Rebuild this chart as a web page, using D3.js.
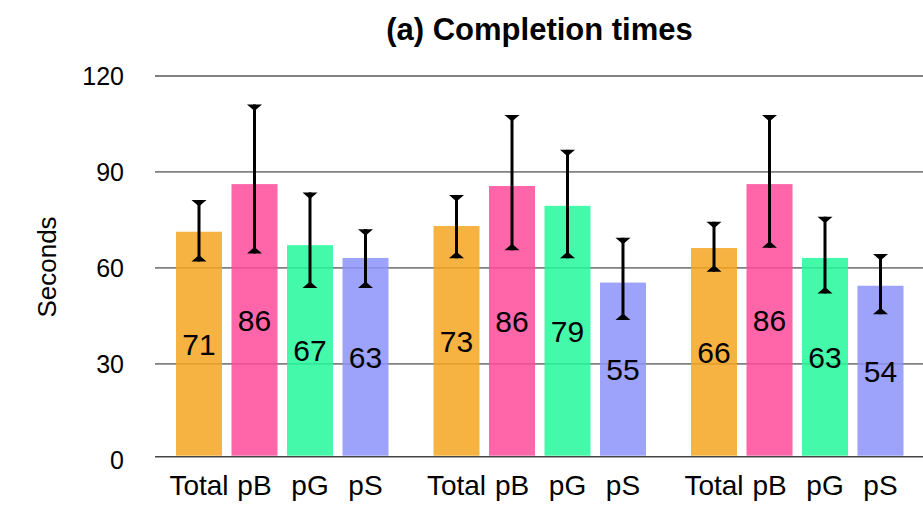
<!DOCTYPE html>
<html>
<head>
<meta charset="utf-8">
<script src="https://cdn.jsdelivr.net/npm/d3@7"></script>
<style>
  html, body { margin: 0; padding: 0; background: #fff; }
  svg { display: block; font-family: "Liberation Sans", Arial, Helvetica, sans-serif; }
</style>
</head>
<body>
<svg id="chart" width="923" height="507"></svg>
<script>
// ---- data ----
const groups = ["Group 1", "Group 2", "Group 3"];
const series = ["Total", "pB", "pG", "pS"];
const meanValues = [
  [71.3, 86.2, 67.1, 63.1],
  [73.1, 85.6, 79.4, 55.4],
  [66.2, 86.2, 63.1, 54.4]
];
const errLow = [
  [62.0, 64.5, 53.7, 53.7],
  [63.0, 65.5, 63.0, 43.7],
  [58.8, 66.3, 52.0, 45.5]
];
const errHigh = [
  [81.2, 111.1, 83.6, 72.1],
  [82.8, 107.8, 96.9, 69.4],
  [74.4, 107.8, 76.0, 64.3]
];
const yTicks = [0, 30, 60, 90, 120];
const seriesColors = ["#F4A621", "#FF4B9B", "#23F99B", "#8C92F9"];
const titleText = "(a) Completion times";
const yTitle = "Seconds";

// ---- layout ----
const svg = d3.select("#chart");
const gridLeft = 155, gridRight = 923;
const y = d3.scaleLinear().domain([0, 120]).range([459.7, 76]);

const x0 = d3.scaleBand().domain(groups).range([176, 903.5]).paddingInner(0.1748).paddingOuter(0);
const x1 = d3.scaleBand().domain(series).range([0, x0.bandwidth()]).paddingInner(0.171).paddingOuter(0);
const color = d3.scaleOrdinal().domain(series).range(seriesColors);

const rows = [];
groups.forEach((g, gi) => series.forEach((s, si) => {
  rows.push({ g, s, v: meanValues[gi][si], lo: errLow[gi][si], hi: errHigh[gi][si] });
}));

// gridlines (under bars)
svg.append("g").selectAll("line").data(yTicks.filter(d => d > 0)).join("line")
  .attr("x1", gridLeft).attr("x2", gridRight)
  .attr("y1", d => y(d)).attr("y2", d => y(d))
  .attr("stroke", "#808080").attr("stroke-width", 1.8);

// bars
const barBottom = y(0) - 4;
svg.append("g").selectAll("rect").data(rows).join("rect")
  .attr("x", d => x0(d.g) + x1(d.s))
  .attr("width", x1.bandwidth())
  .attr("y", d => y(d.v))
  .attr("height", d => barBottom - y(d.v))
  .attr("fill", d => color(d.s))
  .attr("fill-opacity", 0.85);

// baseline axis
svg.append("line")
  .attr("x1", gridLeft).attr("x2", gridRight)
  .attr("y1", y(0) - 3).attr("y2", y(0) - 3)
  .attr("stroke", "#444").attr("stroke-width", 1.5);

// y tick labels
svg.append("g").selectAll("text").data(yTicks).join("text")
  .attr("x", 124).attr("y", d => y(d))
  .attr("dy", "0.36em")
  .attr("text-anchor", "end")
  .attr("font-size", 25)
  .attr("fill", "#000")
  .text(d => d);

// value labels (middle of bar)
svg.append("g").selectAll("text").data(rows).join("text")
  .attr("x", d => x0(d.g) + x1(d.s) + x1.bandwidth() / 2)
  .attr("y", d => (y(d.v) + barBottom) / 2)
  .attr("dy", "0.36em")
  .attr("text-anchor", "middle")
  .attr("font-size", 30)
  .attr("fill", "#000")
  .text(d => d3.format(".0f")(d.v));

// error bars
const eb = svg.append("g").selectAll("g").data(rows).join("g")
  .attr("transform", d => `translate(${x0(d.g) + x1(d.s) + x1.bandwidth() / 2},0)`);
eb.append("line")
  .attr("x1", 0).attr("x2", 0)
  .attr("y1", d => y(d.hi)).attr("y2", d => y(d.lo))
  .attr("stroke", "#000").attr("stroke-width", 3);
const capW = 7.5, capH = 6.5;
eb.append("path")
  .attr("d", d => `M${-capW},${y(d.hi)} L${capW},${y(d.hi)} L0,${y(d.hi) + capH} Z`)
  .attr("fill", "#000");
eb.append("path")
  .attr("d", d => `M${-capW},${y(d.lo)} L${capW},${y(d.lo)} L0,${y(d.lo) - capH} Z`)
  .attr("fill", "#000");

// x labels
svg.append("g").selectAll("text").data(rows).join("text")
  .attr("x", d => x0(d.g) + x1(d.s) + x1.bandwidth() / 2)
  .attr("y", 495)
  .attr("text-anchor", "middle")
  .attr("font-size", 28)
  .attr("fill", "#000")
  .text(d => d.s);

// title
svg.append("text")
  .attr("x", 539.5).attr("y", 40)
  .attr("text-anchor", "middle")
  .attr("font-size", 31)
  .attr("font-weight", "bold")
  .attr("fill", "#000")
  .text(titleText);

// y title
svg.append("text")
  .attr("transform", "translate(56,267) rotate(-90)")
  .attr("text-anchor", "middle")
  .attr("font-size", 26)
  .attr("fill", "#000")
  .text(yTitle);
</script>
</body>
</html>
